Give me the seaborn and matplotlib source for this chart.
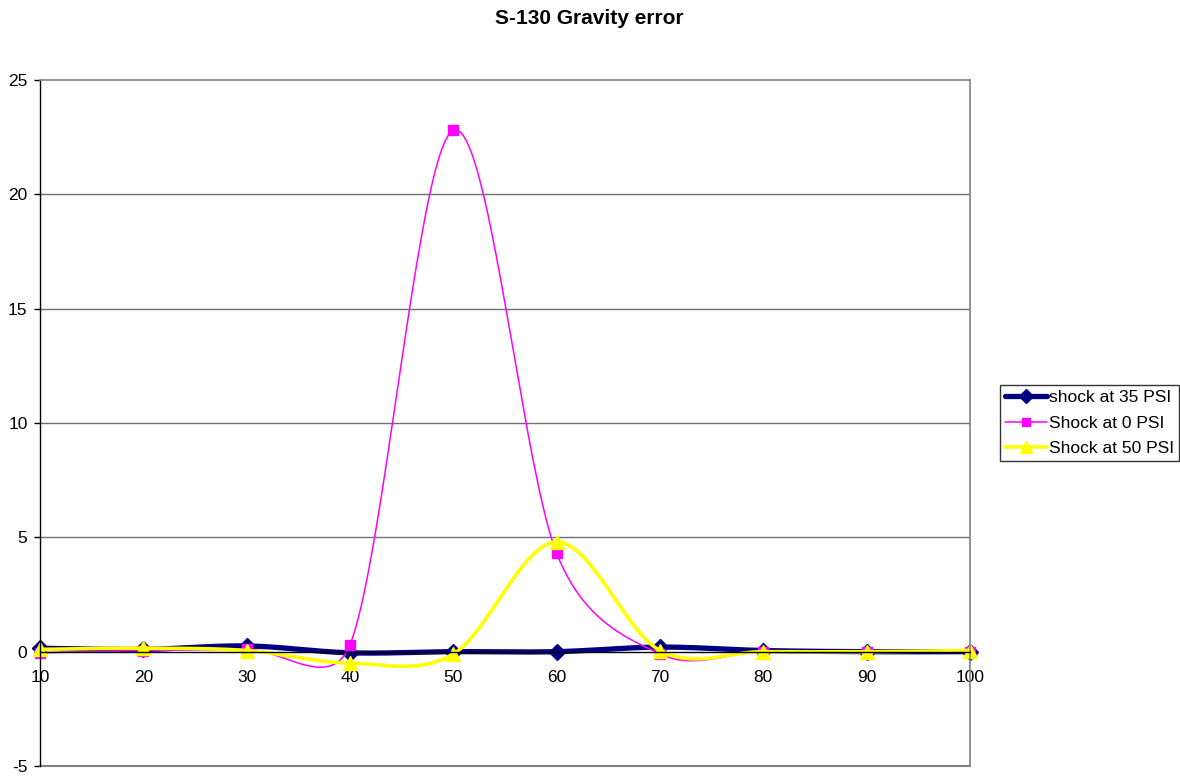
import numpy as np
import pandas as pd
import seaborn as sns
import matplotlib.pyplot as plt
from matplotlib.lines import Line2D

# data
pressure = [10, 20, 30, 40, 50, 60, 70, 80, 90, 100]
shock_35 = [0.15, 0.1, 0.25, -0.05, 0.0, 0.0, 0.2, 0.05, 0.0, 0.0]
shock_0 = [-0.05, 0.05, 0.1, 0.3, 22.8, 4.3, -0.1, 0.0, 0.0, 0.0]
shock_50 = [0.1, 0.15, 0.05, -0.5, -0.1, 4.8, 0.05, 0.0, 0.0, 0.05]

series_names = ["shock at 35 PSI", "Shock at 0 PSI", "Shock at 50 PSI"]
series_values = [shock_35, shock_0, shock_50]
colors = ["#000080", "#FF00FF", "#FFFF00"]
markers = ["D", "s", "^"]
marker_sizes = [8, 6.5, 9.5]
line_widths = [3.8, 1.1, 2.6]

W, H = 1180, 776
X0, X1, Y0, Y1 = 40, 970, 80, 766


def smooth(x, y, sx, sy, n=40):
    # excel-like bezier smoothing, control points worked out in pixel space
    p = np.column_stack([np.asarray(x, float) * sx, np.asarray(y, float) * sy])
    out = [p[0]]
    for i in range(len(p) - 1):
        p0, p1, p2 = p[max(i - 1, 0)], p[i], p[i + 1]
        p3 = p[min(i + 2, len(p) - 1)]
        seg = np.linalg.norm(p2 - p1)
        d1 = (p2 - p0) / 6
        d2 = (p3 - p1) / 6
        for d in (d1, d2):
            ln = np.linalg.norm(d)
            if ln > 0.5 * seg:
                d *= 0.5 * seg / ln
        c1, c2 = p1 + d1, p2 - d2
        t = np.linspace(0, 1, n)[1:, None]
        b = (1 - t) ** 3 * p1 + 3 * (1 - t) ** 2 * t * c1 + 3 * (1 - t) * t ** 2 * c2 + t ** 3 * p2
        out.extend(b)
    out = np.array(out)
    return out[:, 0] / sx, out[:, 1] / sy


sns.set_style("white")
plt.rcParams["font.family"] = ["Liberation Sans", "DejaVu Sans"]
plt.rcParams["axes.unicode_minus"] = False
plt.rcParams["text.color"] = "black"
plt.rcParams["xtick.color"] = "black"
plt.rcParams["ytick.color"] = "black"

fig = plt.figure(figsize=(W / 100, H / 100), dpi=100)
ax = fig.add_axes([X0 / W, 1 - Y1 / H, (X1 - X0) / W, (Y1 - Y0) / H])
ax.set_xlim(10, 100)
ax.set_ylim(-5, 25)

sx = (X1 - X0) / 90
sy = (Y1 - Y0) / 30

for name, vals, c, m, ms, lw in zip(series_names, series_values, colors, markers, marker_sizes, line_widths):
    xs, ys = smooth(pressure, vals, sx, sy)
    curve = pd.DataFrame({"x": xs, "y": ys})
    sns.lineplot(data=curve, x="x", y="y", sort=False, estimator=None, color=c, lw=lw, ax=ax, clip_on=False)
    ax.plot(pressure, vals, linestyle="none", marker=m, ms=ms, color=c, mec=c, clip_on=False)

for yv in [5, 10, 15, 20]:
    ax.axhline(yv, color="#707070", lw=1, zorder=0)
ax.axhline(-5, color="#808080", lw=1.5, clip_on=False)

for side in ["top", "right"]:
    ax.spines[side].set_color("#808080")
    ax.spines[side].set_linewidth(1.2)
ax.spines["left"].set_color("black")
ax.spines["left"].set_linewidth(1)
ax.spines["bottom"].set_position(("data", 0))
ax.spines["bottom"].set_color("black")
ax.spines["bottom"].set_linewidth(1)

ax.set_xticks(pressure)
ax.set_xticklabels([str(p) for p in pressure])
ax.set_yticks([-5, 0, 5, 10, 15, 20, 25])
ax.tick_params(axis="x", length=0, pad=13, labelsize=12.5, labelcolor="black")
ax.tick_params(axis="y", length=4, width=1, pad=5, labelsize=12.5, left=True,
               color="black", labelcolor="black")
ax.set_xlabel("")
ax.set_ylabel("")

fig.text(589 / W, 1 - 18 / H, "S-130 Gravity error", ha="center", va="center",
         fontsize=15, fontweight="bold", color="black")

handles = [Line2D([0], [0], color=c, lw=lw, marker=m, ms=ms * 0.9, mec=c)
           for c, m, ms, lw in zip(colors, markers, marker_sizes, line_widths)]
leg = fig.legend(handles, series_names, loc="upper left",
                 bbox_to_anchor=(1000 / W, 1 - 385 / H), frameon=True, fancybox=False,
                 edgecolor="black", fontsize=12.5, handlelength=2.4, handletextpad=0.1,
                 borderpad=0.3, labelspacing=0.58, borderaxespad=0, labelcolor="black")
leg.get_frame().set_linewidth(1)

fig.savefig("out.png", dpi=100)
